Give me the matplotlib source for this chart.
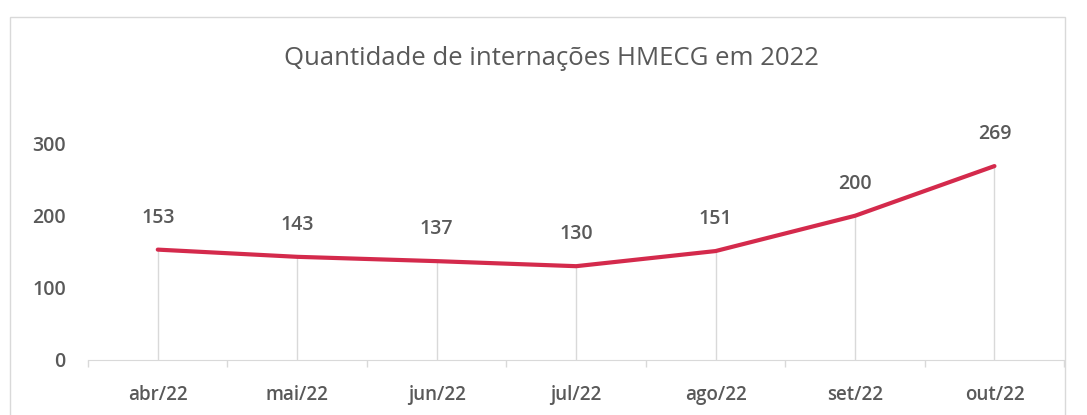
import matplotlib.pyplot as plt
from matplotlib.patches import Rectangle

# dados do grafico
meses = ["abr/22", "mai/22", "jun/22", "jul/22", "ago/22", "set/22", "out/22"]
internacoes = [153, 143, 137, 130, 151, 200, 269]
y_ticks = [0, 100, 200, 300]

cor_linha = "#d42a4c"
cor_texto = "#595959"
cor_grade = "#d9d9d9"

plt.rcParams['font.family'] = ['Open Sans', 'DejaVu Sans']

fig = plt.figure(figsize=(10.87, 4.15), dpi=100)
ax = fig.add_axes([0.081, 0.133, 0.898, 0.59])

x = list(range(len(meses)))

# linhas de queda (drop lines) ate o eixo
ax.vlines(x, 0, internacoes, color=cor_grade, linewidth=1, zorder=1)

ax.plot(x, internacoes, color=cor_linha, linewidth=3, solid_joinstyle='round',
        solid_capstyle='round', zorder=3)

# rotulos de dados
for xi, v in zip(x, internacoes):
    ax.annotate(str(v), (xi, v), xytext=(0, 23), textcoords='offset points',
                ha='center', va='center', fontsize=14, fontweight='semibold',
                color=cor_texto)

ax.set_xlim(-0.5, len(meses) - 0.5)
ax.set_ylim(0, 340)
ax.set_yticks(y_ticks)
ax.set_yticklabels([str(t) for t in y_ticks], fontsize=14, fontweight='semibold',
                   color=cor_texto)
ax.tick_params(axis='y', length=0, pad=16)

ax.set_xticks(x)
ax.set_xticklabels(meses, fontsize=13.5, fontweight='semibold', color=cor_texto)
ax.set_xticks([i - 0.5 for i in range(len(meses) + 1)], minor=True)
ax.tick_params(axis='x', which='major', length=0, pad=18)
ax.tick_params(axis='x', which='minor', length=5, color=cor_grade, width=1)

for lado in ['top', 'right', 'left']:
    ax.spines[lado].set_visible(False)
ax.spines['bottom'].set_color(cor_grade)

fig.text(0.507, 0.858, "Quantidade de internações HMECG em 2022", ha='center',
         va='center', fontsize=18.5, color=cor_texto)

# borda do grafico
fig.patches.append(Rectangle((10 / 1087, -0.1), 1055 / 1087, 1.06,
                             transform=fig.transFigure, fill=False,
                             edgecolor=cor_grade, linewidth=1))

fig.savefig("out.png", dpi=100)
